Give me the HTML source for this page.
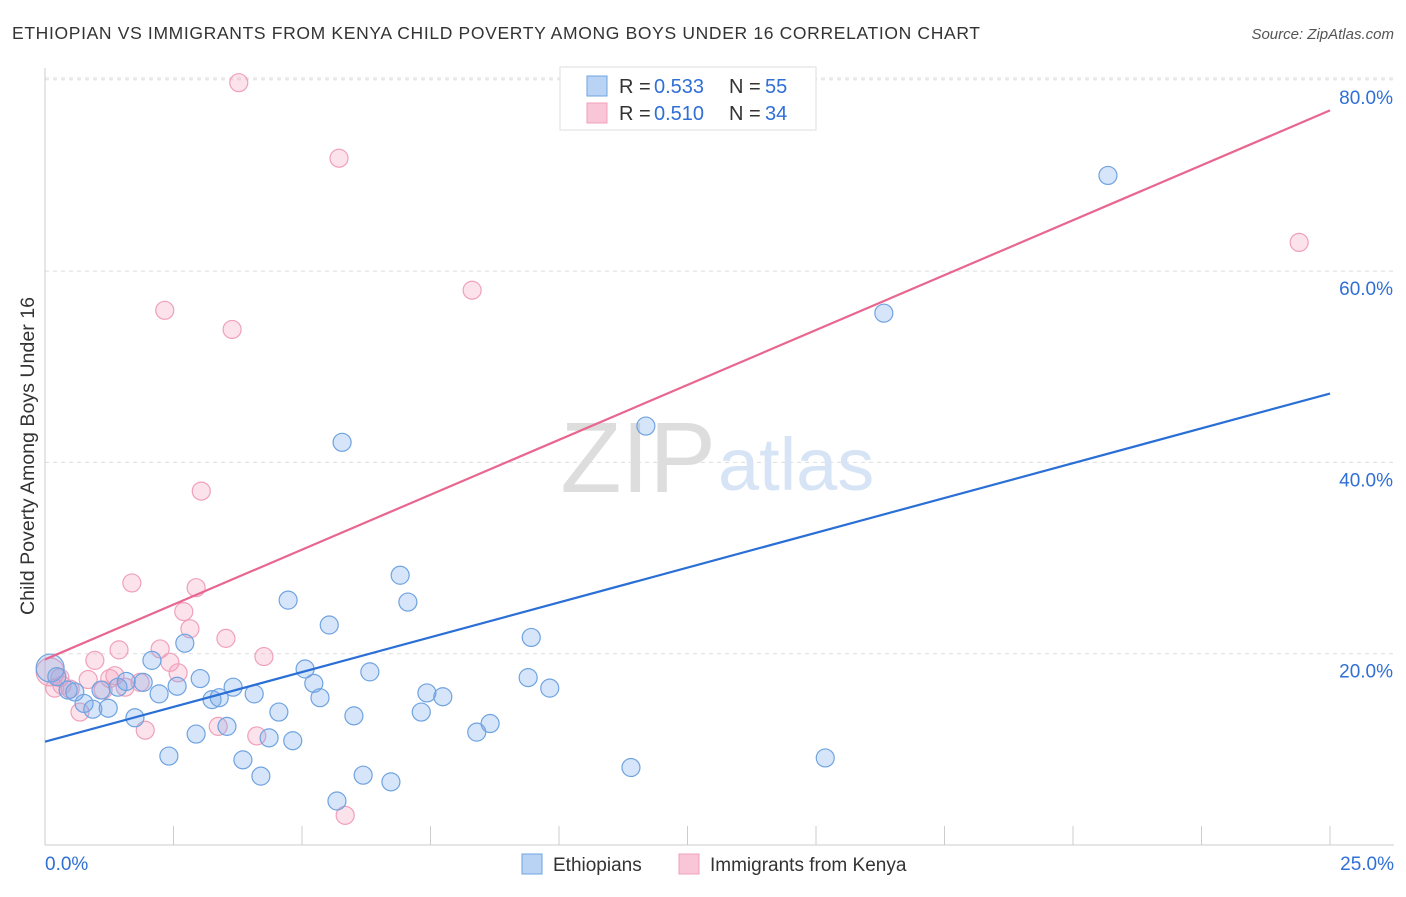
<!DOCTYPE html>
<html><head><meta charset="utf-8"><style>
body{margin:0;background:#fff;font-family:"Liberation Sans",sans-serif;}
svg text{font-family:"Liberation Sans",sans-serif;}
</style></head><body>
<svg id="chart" width="1406" height="892" viewBox="0 0 1406 892">
<text x="12" y="39" font-size="17.5" fill="#333" textLength="968" lengthAdjust="spacing">ETHIOPIAN VS IMMIGRANTS FROM KENYA CHILD POVERTY AMONG BOYS UNDER 16 CORRELATION CHART</text>
<text x="1394" y="39" font-size="15" fill="#555" font-style="italic" text-anchor="end">Source: ZipAtlas.com</text>
<text transform="translate(34,456) rotate(-90)" font-size="19" fill="#333" text-anchor="middle" textLength="318" lengthAdjust="spacingAndGlyphs">Child Poverty Among Boys Under 16</text>
<g id="grid"></g>
<text x="716" y="492" font-size="100" fill="#ddd" text-anchor="end" font-family="Liberation Serif">ZIP</text>
<text x="718" y="490" font-size="74" fill="#d6e4f5">atlas</text>
<g id="marks"></g>
<g>
<rect x="560" y="67" width="256" height="63" fill="#fff" stroke="#ddd"/>
<rect x="587" y="76" width="20" height="20" fill="#b8d3f4" stroke="#6fa3e0"/>
<text x="619" y="93" font-size="20" fill="#333">R =</text>
<text x="654" y="93" font-size="20" fill="#2f6fd6">0.533</text>
<text x="729" y="93" font-size="20" fill="#333">N =</text>
<text x="765" y="93" font-size="20" fill="#2f6fd6">55</text>
<rect x="587" y="103" width="20" height="20" fill="#f8c6d6" stroke="#f0a0bb"/>
<text x="619" y="120" font-size="20" fill="#333">R =</text>
<text x="654" y="120" font-size="20" fill="#2f6fd6">0.510</text>
<text x="729" y="120" font-size="20" fill="#333">N =</text>
<text x="765" y="120" font-size="20" fill="#2f6fd6">34</text>
</g>
<g>
<rect x="522" y="854" width="20" height="20" fill="#b8d3f4" stroke="#6fa3e0"/>
<text x="553" y="871" font-size="19" fill="#333">Ethiopians</text>
<rect x="679" y="854" width="20" height="20" fill="#f8c6d6" stroke="#f0a0bb"/>
<text x="710" y="871" font-size="19" fill="#333">Immigrants from Kenya</text>
</g>
</svg>
<script>
const blueX=[0.10,0.23,0.45,0.58,0.76,0.93,1.23,1.09,1.42,1.58,1.75,1.91,2.08,2.22,2.41,2.57,2.72,2.94,3.02,3.25,3.39,3.54,3.66,3.85,4.07,4.20,4.36,4.55,4.73,4.82,5.06,5.23,5.35,5.53,5.68,5.78,6.01,6.19,6.32,6.73,6.91,7.06,7.32,7.43,7.74,8.40,8.66,9.40,9.46,9.82,11.40,11.69,15.18,16.32,20.68];
const blueY=[18.5,17.6,16.2,16.0,14.8,14.2,14.3,16.2,16.5,17.1,13.3,17.0,19.3,15.8,9.3,16.6,21.1,11.6,17.4,15.2,15.4,12.4,16.5,8.9,15.8,7.2,11.2,13.9,25.6,10.9,18.4,16.9,15.4,23.0,4.6,42.1,13.5,7.3,18.1,6.6,28.2,25.4,13.9,15.9,15.5,11.8,12.7,17.5,21.7,16.4,8.1,43.8,9.1,55.6,70.0];
const pinkX=[0.10,0.19,0.33,0.49,0.68,0.84,0.97,1.13,1.26,1.36,1.44,1.56,1.69,1.85,1.95,2.24,2.33,2.43,2.59,2.70,2.82,2.94,3.04,3.37,3.52,3.64,3.77,4.12,4.26,5.72,5.84,8.31,24.40,0.29];
const pinkY=[18.1,16.4,16.7,16.3,13.9,17.3,19.3,16.2,17.4,17.7,20.4,16.5,27.4,17.0,12.0,20.5,55.9,19.1,18.0,24.4,22.6,26.9,37.0,12.4,21.6,53.9,79.7,11.4,19.7,71.8,3.1,58.0,63.0,17.5];
const blueLine=[10.8,47.2];
const pinkLine=[19.4,76.8];
const yTicks=[20,40,60,80];
const xTicks=[0,2.5,5,7.5,10,12.5,15,17.5,20,22.5,25];
const NS="http://www.w3.org/2000/svg";
const sx=v=>45+v*(1285/25);
const sy=v=>845-v*(765.2/80);
function mk(tag,attrs,parent){const e=document.createElementNS(NS,tag);for(const k in attrs)e.setAttribute(k,attrs[k]);parent.appendChild(e);return e;}
const grid=document.getElementById('grid'),marks=document.getElementById('marks');
yTicks.forEach(t=>{
 const l=mk('line',{x1:45,x2:1394,y1:sy(t),y2:sy(t),stroke:'#ddd','stroke-dasharray':'4,4'},grid);
 
 
 const tx=mk('text',{x:1393,y:sy(t)+24,'font-size':19,fill:'#2f6fd6','text-anchor':'end'},grid);
 tx.textContent=t.toFixed(1)+'%';
 
 
});
const gtop=mk('line',{x1:45,x2:1394,y1:78,y2:78,stroke:'#ddd','stroke-dasharray':'4,4'},grid);


const ya=mk('line',{x1:45,x2:45,y1:68,y2:845,stroke:'#ccc'},grid);


const xa=mk('line',{x1:45,x2:1394,y1:845,y2:845,stroke:'#ccc'},grid);


xTicks.forEach(t=>{
 const l=mk('line',{x1:sx(t),x2:sx(t),y1:826,y2:845,stroke:'#ccc'},grid);
 
 
});
[[0,'start',45],[25,'end',1394]].forEach(([v,a,x])=>{
 const tx=mk('text',{x:x,y:870,'font-size':19,fill:'#2f6fd6','text-anchor':a},grid);
 tx.textContent=v.toFixed(1)+'%';
 
 
});
function pts(X,Y,fill,stroke,name){
 X.forEach((x,i)=>{
  const r=i===0?14:9;
  const c=mk('circle',{cx:sx(x),cy:sy(Y[i]),r:r,fill:fill,stroke:stroke,'stroke-width':1.2},marks);
  
  
 });
}
pts(pinkX,pinkY,'rgba(245,160,190,0.3)','#f0a0bb','point-kenya');
pts(blueX,blueY,'rgba(120,170,235,0.3)','#6fa3e0','point-ethiopians');
const bl=mk('line',{x1:sx(0),y1:sy(blueLine[0]),x2:sx(25),y2:sy(blueLine[1]),stroke:'#2a6fd6','stroke-width':2.2},marks);


const pl=mk('line',{x1:sx(0),y1:sy(pinkLine[0]),x2:sx(25),y2:sy(pinkLine[1]),stroke:'#e8668f','stroke-width':2.2},marks);


</script>
</body></html>
